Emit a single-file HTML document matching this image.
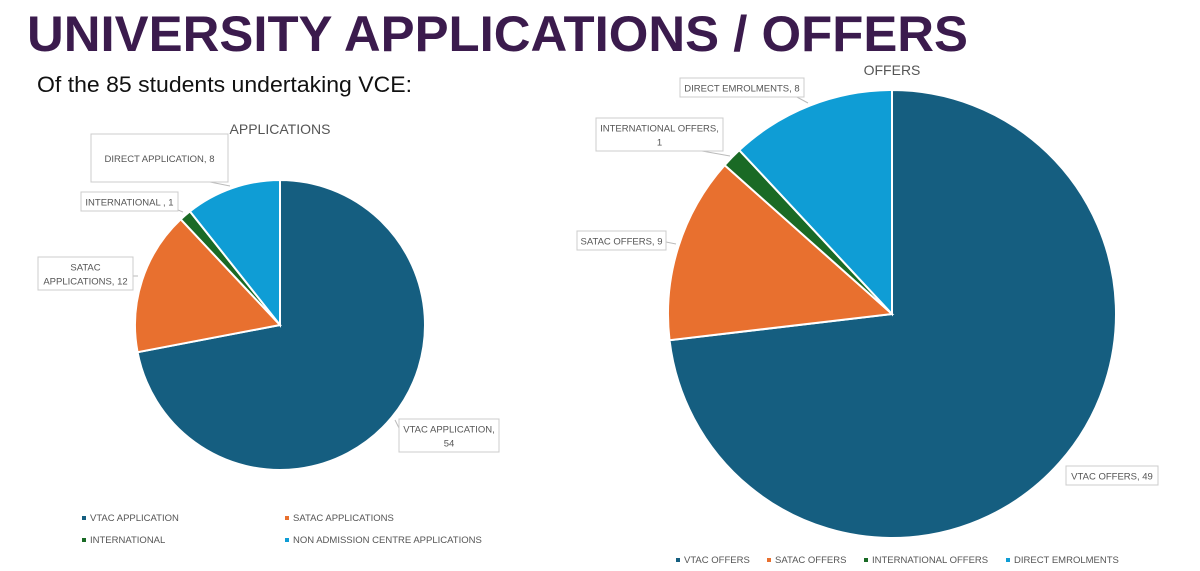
<!DOCTYPE html>
<html><head><meta charset="utf-8"><style>
body{margin:0;background:#fff;}
svg{display:block;font-family:"Liberation Sans",sans-serif;}
</style></head><body>
<svg id="svg" width="1200" height="571" viewBox="0 0 1200 571">
<text x="27" y="51" font-size="50" font-weight="bold" fill="#3b1b4d" textLength="941" lengthAdjust="spacingAndGlyphs">UNIVERSITY APPLICATIONS / OFFERS</text>
<text x="37" y="92" font-size="22" fill="#111" textLength="375" lengthAdjust="spacingAndGlyphs">Of the 85 students undertaking VCE:</text>
<text x="280" y="134" font-size="14" fill="#555" text-anchor="middle">APPLICATIONS</text>
<text x="892" y="75" font-size="14" fill="#555" text-anchor="middle">OFFERS</text>
<g id="left"></g>
<g id="right"></g>
</svg>
<script>
const colors=["#155e80","#e8702f","#1a6a25","#0f9dd5"];
const appCategories=["VTAC APPLICATION","SATAC APPLICATIONS","INTERNATIONAL","DIRECT APPLICATION"];
const appValues=[54,12,1,8];
const appLegend=["VTAC APPLICATION","SATAC APPLICATIONS","INTERNATIONAL","NON ADMISSION CENTRE APPLICATIONS"];
const offCategories=["VTAC OFFERS","SATAC OFFERS","INTERNATIONAL OFFERS","DIRECT EMROLMENTS"];
const offValues=[49,9,1,8];
const NS="http://www.w3.org/2000/svg";
function mk(tag,attrs,parent){const e=document.createElementNS(NS,tag);for(const k in attrs)e.setAttribute(k,attrs[k]);parent.appendChild(e);return e;}
function pie(g,cx,cy,r,values,names,prefix){
  const total=values.reduce((a,b)=>a+b,0);let a0=0;
  values.forEach((v,i)=>{
    const a1=a0+v/total*2*Math.PI;
    const x0=cx+r*Math.sin(a0),y0=cy-r*Math.cos(a0),x1=cx+r*Math.sin(a1),y1=cy-r*Math.cos(a1);
    const large=(a1-a0)>Math.PI?1:0;
    const p=mk("path",{d:`M${cx},${cy}L${x0},${y0}A${r},${r} 0 ${large} 1 ${x1},${y1}Z`,fill:colors[i],stroke:"#fff","stroke-width":2},g);
    
    
    a0=a1;
  });
}
function label(g,x,y,w,h,lines,name){
  const r=mk("rect",{x:x,y:y,width:w,height:h,fill:"#fff",stroke:"#ccc"},g);
  
  
  lines.forEach((t,i)=>{const tx=mk("text",{x:x+w/2,y:y+h/2+4+(i-(lines.length-1)/2)*14,"font-size":9.5,fill:"#555","text-anchor":"middle"},g);tx.textContent=t;
  
  });
}
function legend(g,items,pos,prefix){
  items.forEach((t,i)=>{const [x,y]=pos[i];
    const s=mk("rect",{x:x,y:y-5,width:4,height:4,fill:colors[i]},g);
    
    
    const tx=mk("text",{x:x+8,y:y,"font-size":9.5,fill:"#555"},g);tx.textContent=t;
    
    });
}
const L=document.getElementById("left"),R=document.getElementById("right");
pie(L,280,325,145,appValues,appCategories,"applications");
pie(R,892,314,224,offValues,offCategories,"offers");
mk("path",{d:"M205,181 L230,186 M178,210 L183,212 M133,276 L138,276 M395,420 L400,430",stroke:"#bbb",fill:"none"},L);
mk("path",{d:"M795,96 L808,103 M702,151 L730,156 M666,242 L676,244",stroke:"#bbb",fill:"none"},R);
label(L,91,134,137,48,["DIRECT APPLICATION, "+appValues[3]],"label-direct-application");
label(L,81,192,97,19,["INTERNATIONAL , "+appValues[2]],"label-international");
label(L,38,257,95,33,["SATAC","APPLICATIONS, "+appValues[1]],"label-satac");
label(L,399,419,100,33,["VTAC APPLICATION,",""+appValues[0]],"label-vtac");
label(R,680,78,124,19,["DIRECT EMROLMENTS, "+offValues[3]],"label-direct");
label(R,596,118,127,33,["INTERNATIONAL OFFERS,",""+offValues[2]],"label-international-offers");
label(R,577,231,89,19,["SATAC OFFERS, "+offValues[1]],"label-satac-offers");
label(R,1066,466,92,19,["VTAC OFFERS, "+offValues[0]],"label-vtac-offers");
legend(L,appLegend,[[82,521],[285,521],[82,543],[285,543]],"applications");
legend(R,offCategories,[[676,563],[767,563],[864,563],[1006,563]],"offers");
</script>
</body></html>
